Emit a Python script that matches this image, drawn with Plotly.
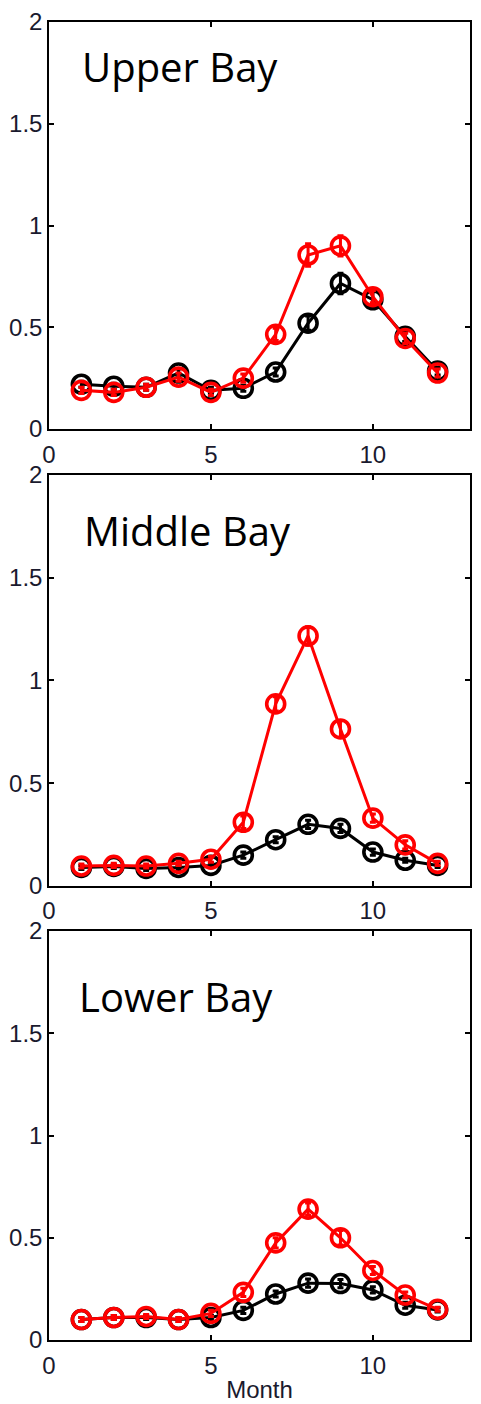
import plotly.graph_objects as go

months = [1, 2, 3, 4, 5, 6, 7, 8, 9, 10, 11, 12]
panel_names = ["Upper Bay", "Middle Bay", "Lower Bay"]

upper_black = [0.22, 0.21, 0.205, 0.275, 0.19, 0.20, 0.28, 0.52, 0.715, 0.635, 0.455, 0.285]
upper_black_err = [0.015, 0.015, 0.015, 0.02, 0.015, 0.015, 0.02, 0.035, 0.05, 0.04, 0.025, 0.02]
upper_red = [0.19, 0.18, 0.205, 0.255, 0.18, 0.25, 0.465, 0.855, 0.90, 0.65, 0.445, 0.275]
upper_red_err = [0.015, 0.015, 0.015, 0.02, 0.015, 0.02, 0.03, 0.055, 0.05, 0.03, 0.025, 0.02]

middle_black = [0.09, 0.095, 0.085, 0.09, 0.10, 0.15, 0.225, 0.30, 0.28, 0.165, 0.125, 0.10]
middle_black_err = [0.01, 0.01, 0.01, 0.01, 0.01, 0.015, 0.015, 0.02, 0.02, 0.015, 0.01, 0.01]
middle_red = [0.097, 0.10, 0.097, 0.11, 0.13, 0.31, 0.886, 1.217, 0.764, 0.33, 0.20, 0.11]
middle_red_err = [0.01, 0.01, 0.01, 0.01, 0.015, 0.03, 0.035, 0.045, 0.04, 0.02, 0.02, 0.01]

lower_black = [0.10, 0.11, 0.11, 0.10, 0.11, 0.145, 0.225, 0.278, 0.276, 0.245, 0.17, 0.147]
lower_black_err = [0.01, 0.01, 0.01, 0.01, 0.01, 0.015, 0.015, 0.02, 0.02, 0.015, 0.015, 0.01]
lower_red = [0.10, 0.11, 0.115, 0.10, 0.13, 0.233, 0.475, 0.64, 0.50, 0.34, 0.22, 0.15]
lower_red_err = [0.01, 0.01, 0.01, 0.01, 0.015, 0.02, 0.025, 0.03, 0.035, 0.02, 0.015, 0.01]

y_tick_vals = [0, 0.5, 1, 1.5, 2]
y_tick_text = ["0", "0.5", "1", "1.5", "2"]
x_tick_vals = [0, 5, 10]
x_tick_text = ["0", "5", "10"]
x_label = "Month"

panels = [
    (upper_black, upper_black_err, upper_red, upper_red_err),
    (middle_black, middle_black_err, middle_red, middle_red_err),
    (lower_black, lower_black_err, lower_red, lower_red_err),
]

domains = [[0.6912, 1.0], [0.3445, 0.6563], [0.0, 0.3103]]
title_pos = [(0.073, 1.78), (0.078, 1.73), (0.066, 1.68)]

fig = go.Figure()
tick_font = dict(family="Liberation Sans, Arial, sans-serif", size=24, color="#1a1a2e")

for i, (bk, bke, rd, rde) in enumerate(panels):
    n = "" if i == 0 else str(i + 1)
    xa = "x" + n
    ya = "y" + n
    for vals, errs, col in [(bk, bke, "black"), (rd, rde, "#ff0000")]:
        fig.add_trace(go.Scatter(
            x=months, y=vals, xaxis=xa, yaxis=ya, mode="lines+markers",
            line=dict(color=col, width=3),
            marker=dict(symbol="circle-open", size=18, color=col, line=dict(width=3.6, color=col)),
            error_y=dict(type="data", array=errs, visible=True, color=col, thickness=3, width=3),
            showlegend=False, cliponaxis=False,
        ))
    fig.layout["xaxis" + n] = dict(
        domain=[0, 1], anchor=ya, range=[0, 13], tickvals=x_tick_vals, ticktext=x_tick_text,
        ticks="inside", ticklen=5, tickwidth=1.5, tickcolor="black",
        showline=True, linecolor="black", linewidth=1.5, mirror="ticks",
        showgrid=False, zeroline=False, tickfont=tick_font, ticklabelstandoff=3,
        title=dict(text=x_label if i == 2 else "", font=dict(family="Liberation Sans, Arial, sans-serif", size=24, color="#1a1a2e"), standoff=4),
    )
    fig.layout["yaxis" + n] = dict(
        domain=domains[i], anchor=xa, range=[0, 2], tickvals=y_tick_vals, ticktext=y_tick_text,
        ticks="inside", ticklen=5, tickwidth=1.5, tickcolor="black",
        showline=True, linecolor="black", linewidth=1.5, mirror="ticks",
        showgrid=False, zeroline=False, tickfont=tick_font,
    )
    tx, ty = title_pos[i]
    fig.add_annotation(
        text=panel_names[i], xref=xa + " domain", yref=ya, x=tx, y=ty,
        xanchor="left", yanchor="middle", showarrow=False,
        font=dict(family="Open Sans, sans-serif", size=40, color="black"),
    )

fig.update_layout(
    width=473, height=1396,
    margin=dict(l=41, r=11, t=14, b=64, autoexpand=False),
    paper_bgcolor="white", plot_bgcolor="white",
)

fig.write_html("out.html")
